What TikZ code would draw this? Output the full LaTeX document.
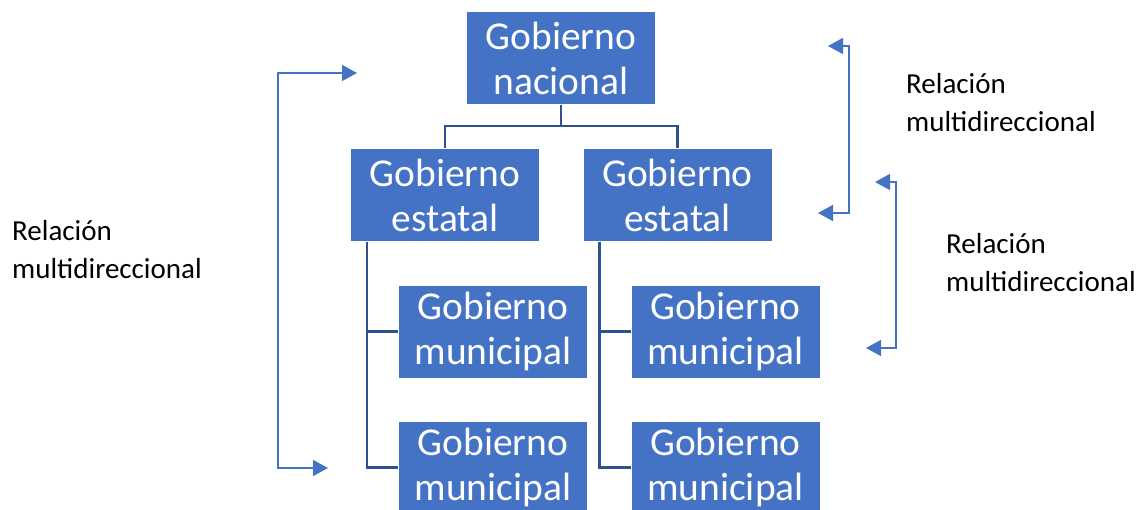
\documentclass[tikz,border=0pt]{standalone}
\usepackage{fontspec}
\setmainfont{Carlito}
\usetikzlibrary{arrows.meta}
\definecolor{boxblue}{HTML}{4472C4}
\definecolor{linkblue}{HTML}{2F528F}
\definecolor{relblue}{HTML}{4472C4}
\begin{document}
\begin{tikzpicture}[x=1pt,y=1pt,
  orgbox/.style={rectangle,fill=boxblue,draw=white,line width=0.8pt,
    minimum width=189pt,minimum height=93pt,inner sep=0pt,align=center,
    text=white,font=\fontsize{39.5}{45}\selectfont},
  link/.style={draw=linkblue,line width=2.4pt},
  rel/.style={draw=relblue,line width=1.4pt,
    {Triangle[length=15pt,width=16pt]}-{Triangle[length=15pt,width=16pt]}},
  rellabel/.style={anchor=west,align=left,inner sep=0pt,
    font=\fontsize{29}{38}\selectfont}]
\useasboundingbox (0,0) rectangle (1140,-510);
\clip (0,0) rectangle (1140,-510);
% boxes
\node[orgbox] (nac) at (561,-58) {Gobierno\\nacional};
\node[orgbox] (e1) at (445,-195) {Gobierno\\estatal};
\node[orgbox] (e2) at (677.5,-195) {Gobierno\\estatal};
\node[orgbox] (m1) at (493,-331.5) {Gobierno\\municipal};
\node[orgbox] (m2) at (493,-467.5) {Gobierno\\municipal};
\node[orgbox] (m3) at (725.5,-331.5) {Gobierno\\municipal};
\node[orgbox] (m4) at (725.5,-467.5) {Gobierno\\municipal};
% connectors
\draw[link] (nac.south) -- ++(0,-21) -| (e1.north);
\draw[link] (nac.south) -- ++(0,-21) -| (e2.north);
\draw[link] ([xshift=17pt]e1.south west) |- (m1.west);
\draw[link] ([xshift=17pt]e1.south west) |- (m2.west);
\draw[link] ([xshift=17pt]e2.south west) |- (m3.west);
\draw[link] ([xshift=17pt]e2.south west) |- (m4.west);
% relation arrows
\coordinate (lt) at (357,-73);
\coordinate (lb) at (328,-468);
\coordinate (r1t) at (828,-46);
\coordinate (r1b) at (818,-213);
\coordinate (r2t) at (875,-182);
\coordinate (r2b) at (866,-348);
\draw[rel] (lt) -- ++(-79,0) |- (lb);
\draw[rel] (r1t) -- ++(21,0) |- (r1b);
\draw[rel] (r2t) -- ++(21,0) |- (r2b);
% labels
\node[rellabel] (l1) at (12,-250) {Relación\\multidireccional};
\node[rellabel] (l2) at (906,-103) {Relación\\multidireccional};
\node[rellabel] (l3) at (946,-263) {Relación\\multidireccional};
\end{tikzpicture}
\end{document}
